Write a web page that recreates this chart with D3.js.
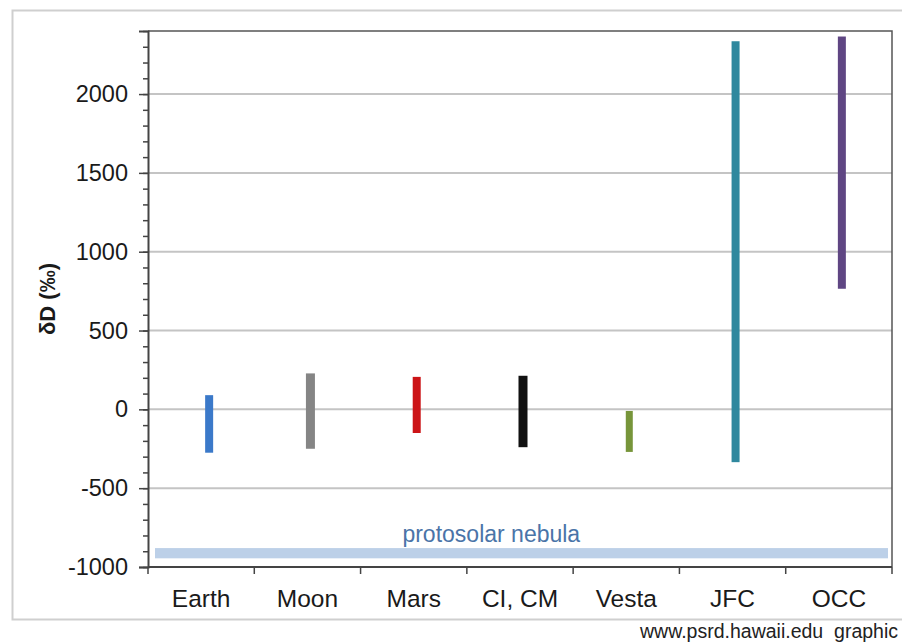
<!DOCTYPE html>
<html>
<head>
<meta charset="utf-8">
<script src="https://d3js.org/d3.v7.min.js"></script>
<style>
  body { margin: 0; background: #fff; }
  svg { display: block; font-family: "Liberation Sans", Arial, sans-serif; }
</style>
</head>
<body>
<div id="chart"></div>
<script>
// deuterium ranges per body (per mil)
const categories = ["Earth", "Moon", "Mars", "CI, CM", "Vesta", "JFC", "OCC"];
const lows  = [-275, -250, -150, -240, -270, -335, 765];
const highs = [90, 228, 206, 213, -10, 2335, 2365];
const colors = ["#3b79c9", "#858585", "#cc1417", "#111111", "#77953a", "#2f889e", "#5f4683"];
const barWidths = [8, 9, 8, 9, 7, 8, 8];
const yTicks = [-1000, -500, 0, 500, 1000, 1500, 2000];
const nebula = [-945, -880];

const W = 902, H = 644;
const margin = { top: 31, right: 10, bottom: 77, left: 148 };
const iw = W - margin.left - margin.right;   // 744
const ih = H - margin.top - margin.bottom;    // 536

const svg = d3.select("#chart").append("svg")
  .attr("width", W).attr("height", H);

// outer frame
svg.append("rect")
  .attr("x", 12.5).attr("y", 10.5).attr("width", 900).attr("height", 609)
  .attr("fill", "none").attr("stroke", "#cfcfcf").attr("stroke-width", 2);

const g = svg.append("g").attr("transform", `translate(${margin.left},${margin.top})`);

const x = d3.scaleBand().domain(categories).range([0, iw]).padding(0);
const y = d3.scaleLinear().domain([-1000, 2400]).range([ih, 0]);

// gridlines
g.append("g").selectAll("line").data(yTicks.filter(d => d > -1000))
  .enter().append("line")
  .attr("x1", 0).attr("x2", iw)
  .attr("y1", d => y(d)).attr("y2", d => y(d))
  .attr("stroke", "#c4c4c4").attr("stroke-width", 2);

// plot border (top + right)
g.append("path")
  .attr("d", `M0,0H${iw}V${ih}`)
  .attr("fill", "none").attr("stroke", "#555").attr("stroke-width", 1.5);

// protosolar nebula band
g.append("rect")
  .attr("x", 7).attr("width", iw - 11)
  .attr("y", y(nebula[1])).attr("height", y(nebula[0]) - y(nebula[1]))
  .attr("fill", "#bcd0e8");
g.append("text")
  .attr("x", x("CI, CM") + x.bandwidth() * 0.23).attr("y", y(nebula[1]) - 6)
  .attr("text-anchor", "middle")
  .attr("font-size", 23).attr("fill", "#4a74a8")
  .text("protosolar nebula");

// range bars
g.append("g").selectAll("rect").data(categories)
  .enter().append("rect")
  .attr("x", (d, i) => x(d) + x.bandwidth() / 2 - barWidths[i] / 2 + (i === 0 ? 8 : 3))
  .attr("width", (d, i) => barWidths[i])
  .attr("y", (d, i) => y(highs[i]))
  .attr("height", (d, i) => y(lows[i]) - y(highs[i]))
  .attr("fill", (d, i) => colors[i]);

// y axis with minor ticks
const yAxisMinor = d3.axisLeft(y).tickValues(d3.range(-1000, 2401, 100)).tickSize(5).tickFormat("");
g.append("g").call(yAxisMinor)
  .call(s => s.selectAll("line").attr("stroke", "#444").attr("stroke-width", 1.5))
  .call(s => s.select(".domain").remove());
const yAxis = d3.axisLeft(y).tickValues(yTicks).tickSize(9).tickPadding(11).tickFormat(d => String(d));
g.append("g").call(yAxis)
  .call(s => s.select(".domain").attr("stroke", "#444").attr("stroke-width", 2))
  .call(s => s.selectAll("line").attr("stroke", "#444").attr("stroke-width", 1.5))
  .call(s => s.selectAll("text").attr("font-size", 23.5).attr("fill", "#1a1a1a")
    .attr("font-family", "'Liberation Sans', Arial, sans-serif"));

// x axis: ticks at band boundaries
const bounds = categories.map(d => x(d)).concat([iw]);
g.append("line").attr("x1", 0).attr("x2", iw).attr("y1", ih).attr("y2", ih)
  .attr("stroke", "#444").attr("stroke-width", 2);
g.append("g").selectAll("line").data(bounds).enter().append("line")
  .attr("x1", d => d).attr("x2", d => d)
  .attr("y1", ih).attr("y2", ih + 7)
  .attr("stroke", "#444").attr("stroke-width", 1.5);
g.append("g").selectAll("text").data(categories).enter().append("text")
  .attr("x", d => x(d) + x.bandwidth() / 2)
  .attr("y", ih + 40)
  .attr("text-anchor", "middle")
  .attr("font-size", 24.5).attr("fill", "#1a1a1a")
  .text(d => d);

// y axis title
svg.append("text")
  .attr("transform", `translate(55,${margin.top + y(700)}) rotate(-90)`)
  .attr("text-anchor", "middle")
  .attr("font-size", 22).attr("font-weight", "bold").attr("fill", "#1a1a1a")
  .text("δD (‰)");

// credit
svg.append("text")
  .attr("x", 898).attr("y", 638)
  .attr("text-anchor", "end")
  .attr("font-size", 19.5).attr("fill", "#222")
  .attr("xml:space", "preserve")
  .text("www.psrd.hawaii.edu  graphic");
</script>
</body>
</html>
